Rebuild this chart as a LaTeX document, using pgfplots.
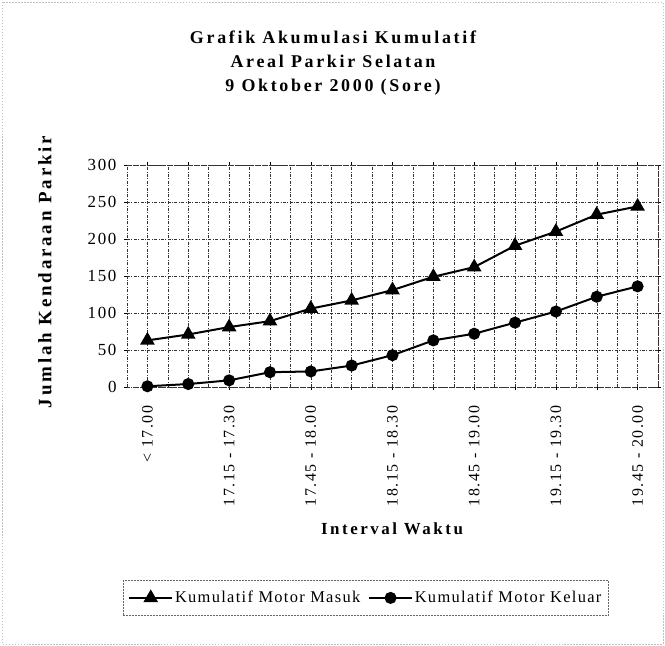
\documentclass[border=0pt]{standalone}
\usepackage{fontspec}
\setmainfont{Liberation Serif}
\newfontfamily\spc[LetterSpace=15]{Liberation Serif}
\newfontfamily\spct[LetterSpace=10]{Liberation Serif}
\newfontfamily\spcl[LetterSpace=8]{Liberation Serif}
\usepackage{pgfplots}
\pgfplotsset{compat=1.18}

\begin{document}
\begin{tikzpicture}
\useasboundingbox (0bp,0bp) rectangle (665bp,-646bp);
\draw[gray!50, dash pattern=on 1.5pt off 1.5pt] (2bp,-2bp) rectangle (663bp,-644bp);

\begin{axis}[
  at={(127bp,-387bp)}, anchor=south west,
  scale only axis, width=531bp, height=222bp,
  xmin=-0.5, xmax=12.5, ymin=0, ymax=300,
  ytick={0,50,...,300},
  xtick={0,...,12},
  xticklabels={{< 17.00},,{17.15 - 17.30},,{17.45 - 18.00},,{18.15 - 18.30},,{18.45 - 19.00},,{19.15 - 19.30},,{19.45 - 20.00}},
  minor xtick={-0.5,0.5,...,12.5},
  xmajorgrids, xminorgrids, ymajorgrids,
  grid style={black!80, line width=0.45pt, dash pattern=on 3pt off 1.5pt on 0.8pt off 1.5pt},
  axis line style={black!80, line width=0.45pt, dash pattern=on 3pt off 1.5pt on 0.8pt off 1.5pt},
  tick align=outside, major tick length=3bp, minor tick length=0bp,
  tick style={black, line width=0.4pt},
  /pgf/number format/assume math mode=true,
  yticklabel style={font=\spct\fontsize{17}{17}\selectfont, xshift=-4bp},
  xticklabel style={yshift=-12bp, rotate=90, anchor=east, font=\spct\fontsize{16}{16}\selectfont},
  legend style={at={(0.45,-0.95)}, anchor=center, legend columns=2,
    draw=black!60, dash pattern=on 2pt off 1pt, inner xsep=5bp, inner ysep=9bp,
    font=\spcl\fontsize{16.5}{16.5}\selectfont,
    /tikz/every even column/.append style={column sep=6bp}},
  legend image code/.code={\draw[mark repeat=2,mark phase=2,#1] plot coordinates {(0cm,0cm) (0.75cm,0cm) (1.5cm,0cm)};},
]
\addplot[black, line width=2bp, mark=triangle*, mark size=6.5bp, mark options={solid}] coordinates {
  (0,63) (1,71) (2,81) (3,89) (4,106) (5,117) (6,131)
  (7,149) (8,162) (9,191) (10,210) (11,233) (12,244)
};
\addlegendentry{Kumulatif Motor Masuk}
\addplot[black, line width=2bp, mark=*, mark size=5bp, mark options={solid}] coordinates {
  (0,1) (1,4) (2,9) (3,20) (4,21) (5,29) (6,43)
  (7,63) (8,72) (9,87) (10,102) (11,122) (12,136)
};
\addlegendentry{Kumulatif Motor Keluar}
\end{axis}

\node[align=center, font=\spc\bfseries\fontsize{18}{24}\selectfont] at (333bp,-63bp)
  {Grafik Akumulasi Kumulatif\\Areal Parkir Selatan\\9 Oktober 2000 (Sore)};
\node[rotate=90, font=\spc\bfseries\fontsize{19}{19}\selectfont] at (45bp,-272bp) {Jumlah Kendaraan Parkir};
\node[font=\spc\bfseries\fontsize{17}{17}\selectfont] at (392bp,-529bp) {Interval Waktu};
\end{tikzpicture}
\end{document}
